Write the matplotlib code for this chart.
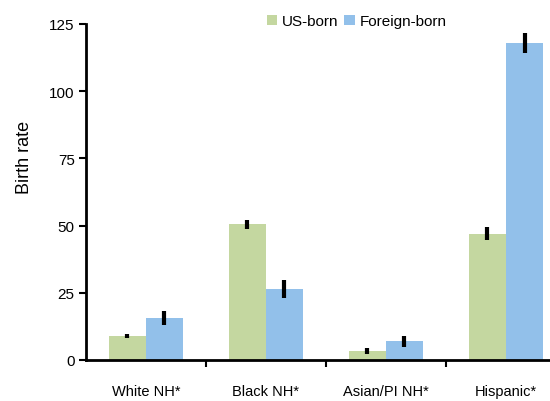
import numpy as np
import matplotlib
matplotlib.use("Agg")
import matplotlib.pyplot as plt

# -------------------- data --------------------
groups = ["White NH*", "Black NH*", "Asian/PI NH*", "Hispanic*"]
us_born = [8.9, 50.5, 3.3, 47.0]
foreign_born = [15.8, 26.5, 7.0, 118.0]
us_err = [0.6, 1.6, 1.2, 2.5]
foreign_err = [2.6, 3.4, 2.0, 3.8]
y_ticks = [0, 25, 50, 75, 100, 125]

GREEN = "#C4D7A0"
BLUE = "#92C0EA"

plt.rcParams["font.family"] = ["Liberation Sans", "DejaVu Sans"]

fig = plt.figure(figsize=(5.5, 4.02), dpi=100)
ax = fig.add_axes([0.156, 0.102, 0.873, 0.836])

x = np.arange(len(groups))
w = 0.31
err_kw = dict(ecolor="black", elinewidth=3, capsize=0)
ax.bar(x - w / 2, us_born, w, color=GREEN, yerr=us_err, error_kw=err_kw, label="US-born")
ax.bar(x + w / 2, foreign_born, w, color=BLUE, yerr=foreign_err, error_kw=err_kw, label="Foreign-born")

ax.set_xlim(-0.5, len(groups) - 0.5)
ax.set_ylim(0, 125)
ax.set_yticks(y_ticks)
ax.set_xticks(x)
ax.set_xticklabels(groups, fontsize=10.5)
ax.set_xticks(np.arange(0.5, len(groups) - 0.5), minor=True)
ax.tick_params(axis="x", which="major", length=0, pad=17)
ax.tick_params(axis="x", which="minor", length=5, width=1.5, direction="out")
ax.tick_params(axis="y", length=5, width=1.5, direction="out", labelsize=11, pad=3)

for s in ["top", "right"]:
    ax.spines[s].set_visible(False)
for s in ["left", "bottom"]:
    ax.spines[s].set_linewidth(2)

ax.set_ylabel("Birth rate", fontsize=13)
ax.yaxis.set_label_coords(-0.11, 0.607)

ax.legend(loc="center", bbox_to_anchor=(0.564, 1.008),
          ncol=2, frameon=False, fontsize=11, handlelength=0.7, handleheight=0.7,
          handletextpad=0.3, columnspacing=0.4)

fig.savefig("out.png", dpi=100)
